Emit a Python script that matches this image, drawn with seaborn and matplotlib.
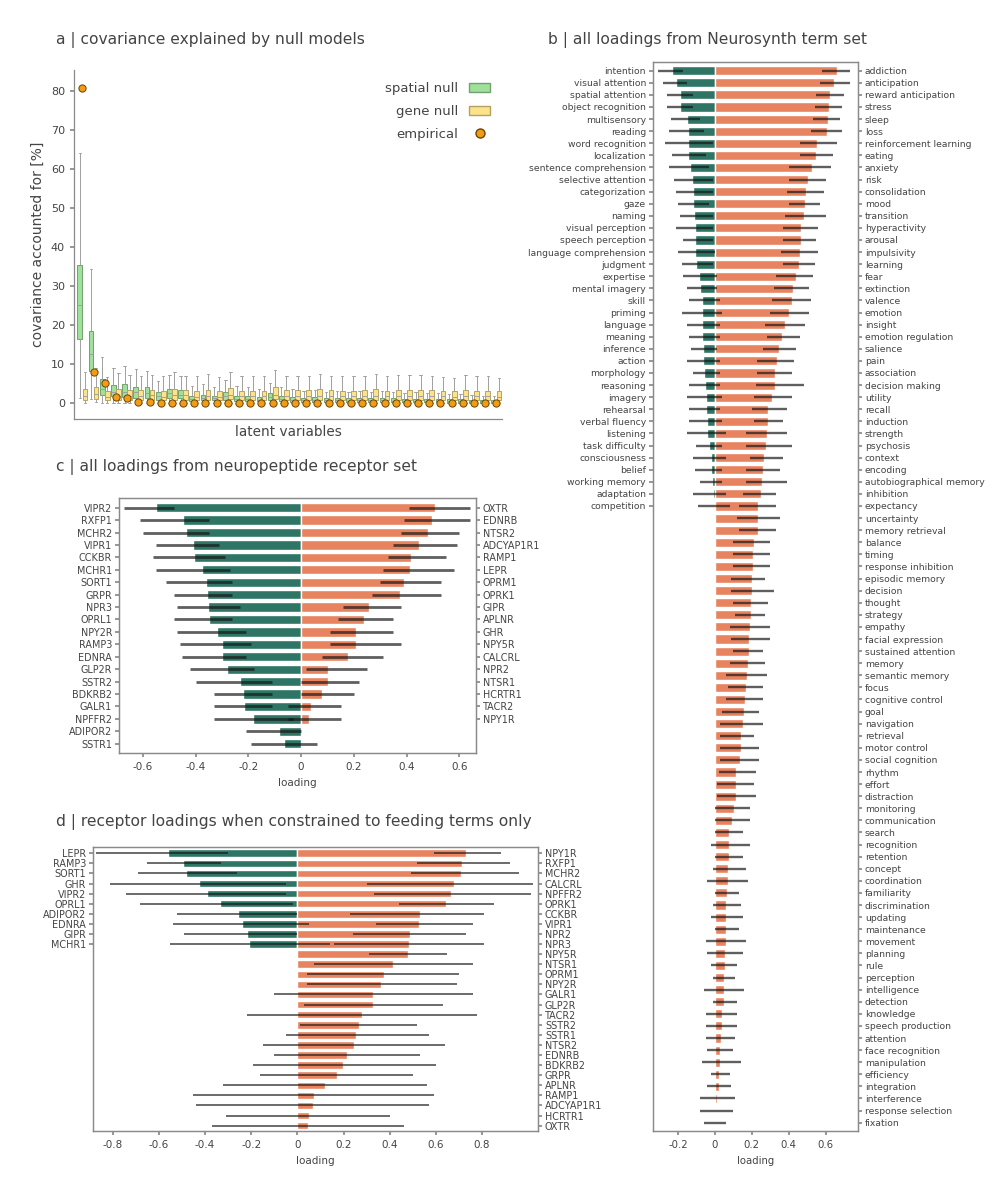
import matplotlib
matplotlib.use("Agg")
import matplotlib.pyplot as plt
from matplotlib.patches import Patch
from matplotlib.lines import Line2D
import numpy as np
import pandas as pd
import seaborn as sns

# ---------------- data: panel a (null model boxplots) ----------------
lv_ids = list(range(1, 39))
empirical = [80.8, 8.1, 5.2, 1.6, 1.3, 0.4, 0.3, 0.2, 0.2, 0.15, 0.12, 0.12, 0.1, 0.1, 0.1,
             0.08, 0.08, 0.08, 0.07, 0.07, 0.06, 0.06, 0.06, 0.05, 0.05, 0.05, 0.05, 0.04,
             0.04, 0.04, 0.04, 0.03, 0.03, 0.03, 0.03, 0.02, 0.02, 0.02]
# spatial null: low whisker, q1, median, q3, high whisker
sp_lo = [1.5, 1.1, 0.1, 0.2, 0.2, 0.2, 0.2, 0.1, 0.2, 0.1, 0.1, 0.1, 0.1, 0.1, 0.1, 0.1, 0.1, 0.1, 0.1,
         0.1, 0.1, 0.1, 0.05, 0.05, 0.05, 0.05, 0.05, 0.05, 0.05, 0.05, 0.05, 0.05, 0.05, 0.05, 0.05, 0.05, 0.05, 0.05]
sp_q1 = [16.5, 8.2, 2.2, 2.0, 1.6, 1.4, 1.4, 0.9, 1.5, 1.4, 0.5, 0.8, 0.8, 0.9, 0.6, 0.6, 0.5, 0.9, 0.5,
         0.4, 0.4, 0.4, 0.3, 0.3, 0.3, 0.3, 0.3, 0.3, 0.3, 0.3, 0.3, 0.3, 0.3, 0.2, 0.2, 0.2, 0.2, 0.2]
sp_med = [25.3, 12.7, 3.7, 3.0, 3.0, 2.9, 2.7, 1.8, 2.6, 2.2, 1.1, 1.4, 1.4, 1.9, 1.1, 1.1, 0.9, 1.6, 1.1,
          0.9, 0.9, 1.0, 0.8, 0.8, 0.7, 0.8, 0.8, 0.8, 0.7, 0.7, 0.7, 0.6, 0.7, 0.6, 0.6, 0.5, 0.5, 0.4]
sp_q3 = [35.6, 18.6, 6.2, 4.7, 5.0, 4.2, 4.2, 2.8, 3.8, 3.5, 1.8, 2.2, 2.0, 2.9, 1.9, 1.8, 1.6, 2.6, 1.8,
         1.6, 1.5, 1.7, 1.4, 1.4, 1.3, 1.4, 1.4, 1.5, 1.3, 1.2, 1.2, 1.1, 1.2, 1.1, 1.1, 1.0, 0.9, 0.8]
sp_hi = [64.3, 34.4, 12.0, 9.0, 9.7, 8.7, 8.3, 5.8, 7.3, 6.9, 4.5, 5.0, 4.2, 5.9, 4.5, 4.2, 3.7, 5.2, 4.2,
         3.6, 3.3, 3.5, 3.0, 3.2, 2.9, 3.1, 3.0, 3.2, 2.8, 2.7, 2.9, 2.6, 2.7, 2.4, 2.5, 2.2, 2.0, 1.8]
# gene null
gn_lo = [0.2, 0.3] + [0.2] * 36
gn_q1 = [0.9, 1.1, 0.9, 0.8, 0.9, 0.8, 0.9, 0.8, 0.9, 0.9, 0.9, 0.9, 0.8, 1.1, 0.8, 0.8, 0.8, 1.1, 0.9,
         0.9, 0.9, 1.0, 0.9, 0.8, 0.8, 0.9, 1.0, 0.8, 0.9, 0.9, 0.9, 0.9, 0.8, 0.8, 0.9, 0.8, 0.8, 0.8]
gn_med = [1.9, 2.5, 1.7, 1.9, 1.9, 1.9, 2.1, 1.6, 2.2, 2.1, 1.6, 1.9, 1.6, 2.2, 1.8, 1.8, 1.8, 2.2, 1.9,
          1.9, 1.9, 2.0, 1.9, 1.8, 1.8, 1.9, 2.0, 1.8, 1.9, 1.9, 1.9, 1.9, 1.8, 1.7, 1.9, 1.8, 1.8, 1.7]
gn_q3 = [3.6, 4.3, 3.2, 3.6, 3.5, 3.5, 3.5, 3.2, 3.7, 3.5, 3.2, 3.5, 3.2, 3.9, 3.2, 3.2, 3.2, 4.2, 3.5,
         3.4, 3.4, 3.6, 3.4, 3.3, 3.3, 3.4, 3.6, 3.3, 3.4, 3.4, 3.4, 3.4, 3.3, 3.2, 3.4, 3.3, 3.3, 3.2]
gn_hi = [8.0, 9.2, 6.8, 7.7, 7.3, 6.9, 7.3, 7.0, 8.0, 7.1, 6.9, 7.5, 6.7, 8.1, 6.9, 7.0, 6.9, 8.6, 7.1,
         7.1, 7.1, 7.5, 7.1, 6.9, 6.9, 7.1, 7.5, 6.9, 7.3, 7.3, 7.3, 7.1, 6.8, 6.4, 7.2, 6.9, 6.9, 6.6]

# ---------------- data: panel b (Neurosynth terms) ----------------
b_neg_terms = ["intention", "visual attention", "spatial attention", "object recognition", "multisensory",
               "reading", "word recognition", "localization", "sentence comprehension", "selective attention",
               "categorization", "gaze", "naming", "visual perception", "speech perception",
               "language comprehension", "judgment", "expertise", "mental imagery", "skill", "priming",
               "language", "meaning", "inference", "action", "morphology", "reasoning", "imagery",
               "rehearsal", "verbal fluency", "listening", "task difficulty", "consciousness", "belief",
               "working memory", "adaptation", "competition"]
b_neg_vals = [-0.231, -0.209, -0.191, -0.191, -0.151, -0.148, -0.144, -0.144, -0.135, -0.126, -0.121,
              -0.117, -0.115, -0.110, -0.110, -0.105, -0.103, -0.086, -0.081, -0.072, -0.070, -0.068,
              -0.067, -0.065, -0.063, -0.061, -0.056, -0.050, -0.050, -0.045, -0.045, -0.031, -0.023,
              -0.023, -0.013, -0.009, -0.005]
b_neg_lo = [-0.31, -0.28, -0.26, -0.26, -0.24, -0.25, -0.27, -0.23, -0.25, -0.22, -0.21, -0.20, -0.19,
            -0.21, -0.17, -0.20, -0.18, -0.17, -0.15, -0.14, -0.18, -0.15, -0.14, -0.13, -0.15, -0.12,
            -0.14, -0.15, -0.14, -0.14, -0.15, -0.10, -0.12, -0.11, -0.08, -0.12, -0.09]
b_neg_hi = [-0.17, -0.15, -0.12, -0.12, -0.08, -0.06, -0.01, -0.05, -0.03, -0.01, -0.01, -0.03, -0.01,
            -0.01, -0.01, 0.00, -0.01, 0.01, 0.01, 0.03, 0.04, 0.03, 0.03, 0.01, 0.03, 0.03, 0.03, 0.04,
            0.03, 0.04, 0.06, 0.04, 0.06, 0.04, 0.04, 0.06, 0.08]
b_pos_terms = ["addiction", "anticipation", "reward anticipation", "stress", "sleep", "loss",
               "reinforcement learning", "eating", "anxiety", "risk", "consolidation", "mood", "transition",
               "hyperactivity", "arousal", "impulsivity", "learning", "fear", "extinction", "valence",
               "emotion", "insight", "emotion regulation", "salience", "pain", "association",
               "decision making", "utility", "recall", "induction", "strength", "psychosis", "context",
               "encoding", "autobiographical memory", "inhibition", "expectancy", "uncertainty",
               "memory retrieval", "balance", "timing", "response inhibition", "episodic memory", "decision",
               "thought", "strategy", "empathy", "facial expression", "sustained attention", "memory",
               "semantic memory", "focus", "cognitive control", "goal", "navigation", "retrieval",
               "motor control", "social cognition", "rhythm", "effort", "distraction", "monitoring",
               "communication", "search", "recognition", "retention", "concept", "coordination",
               "familiarity", "discrimination", "updating", "maintenance", "movement", "planning", "rule",
               "perception", "intelligence", "detection", "knowledge", "speech production", "attention",
               "face recognition", "manipulation", "efficiency", "integration", "interference",
               "response selection", "fixation"]
b_pos_vals = [0.661, 0.647, 0.623, 0.616, 0.613, 0.607, 0.553, 0.550, 0.524, 0.505, 0.495, 0.488, 0.485,
              0.468, 0.465, 0.461, 0.456, 0.441, 0.423, 0.420, 0.404, 0.380, 0.366, 0.346, 0.339, 0.328,
              0.324, 0.310, 0.286, 0.285, 0.283, 0.276, 0.267, 0.259, 0.256, 0.252, 0.236, 0.234, 0.231,
              0.213, 0.209, 0.205, 0.202, 0.200, 0.198, 0.195, 0.191, 0.187, 0.184, 0.180, 0.175, 0.168,
              0.164, 0.157, 0.151, 0.142, 0.139, 0.137, 0.117, 0.115, 0.112, 0.101, 0.092, 0.077, 0.074,
              0.074, 0.072, 0.070, 0.065, 0.061, 0.061, 0.059, 0.059, 0.056, 0.056, 0.052, 0.050, 0.047,
              0.040, 0.036, 0.031, 0.029, 0.027, 0.025, 0.022, 0.009, 0.007, 0.002]
b_pos_lo = [0.58, 0.57, 0.55, 0.54, 0.53, 0.52, 0.46, 0.46, 0.40, 0.40, 0.39, 0.40, 0.38, 0.37, 0.37, 0.36,
            0.37, 0.33, 0.32, 0.31, 0.30, 0.27, 0.28, 0.26, 0.23, 0.23, 0.22, 0.21, 0.20, 0.21, 0.17, 0.17,
            0.19, 0.17, 0.17, 0.15, 0.13, 0.12, 0.13, 0.10, 0.10, 0.10, 0.09, 0.09, 0.10, 0.11, 0.08, 0.09,
            0.10, 0.08, 0.06, 0.07, 0.06, 0.04, 0.03, 0.03, 0.03, 0.03, 0.02, 0.01, 0.01, 0.00, 0.00, 0.00,
            -0.02, 0.00, -0.01, -0.04, 0.00, -0.01, -0.02, 0.00, -0.05, -0.04, -0.02, -0.01, -0.06, -0.01,
            -0.05, -0.05, -0.05, -0.04, -0.07, -0.02, -0.04, -0.08, -0.08, -0.06]
b_pos_hi = [0.73, 0.73, 0.70, 0.69, 0.68, 0.69, 0.66, 0.64, 0.63, 0.60, 0.59, 0.57, 0.60, 0.56, 0.55, 0.56,
            0.54, 0.53, 0.51, 0.52, 0.51, 0.49, 0.46, 0.44, 0.43, 0.42, 0.48, 0.42, 0.39, 0.37, 0.39, 0.42,
            0.37, 0.35, 0.39, 0.33, 0.33, 0.35, 0.33, 0.30, 0.30, 0.30, 0.27, 0.32, 0.29, 0.27, 0.30, 0.30,
            0.26, 0.27, 0.28, 0.26, 0.26, 0.24, 0.26, 0.21, 0.24, 0.24, 0.22, 0.21, 0.22, 0.19, 0.19, 0.15,
            0.19, 0.15, 0.17, 0.18, 0.13, 0.14, 0.15, 0.13, 0.17, 0.15, 0.12, 0.11, 0.16, 0.12, 0.12, 0.12,
            0.11, 0.10, 0.14, 0.08, 0.09, 0.11, 0.10, 0.06]

# ---------------- data: panel c (neuropeptide receptor set) ----------------
c_neg_terms = ["VIPR2", "RXFP1", "MCHR2", "VIPR1", "CCKBR", "MCHR1", "SORT1", "GRPR", "NPR3", "OPRL1",
               "NPY2R", "RAMP3", "EDNRA", "GLP2R", "SSTR2", "BDKRB2", "GALR1", "NPFFR2", "ADIPOR2", "SSTR1"]
c_neg_vals = [-0.548, -0.446, -0.437, -0.411, -0.404, -0.377, -0.362, -0.358, -0.352, -0.349, -0.318,
              -0.301, -0.300, -0.281, -0.232, -0.219, -0.216, -0.181, -0.082, -0.063]
c_neg_lo = [-0.67, -0.61, -0.60, -0.55, -0.56, -0.55, -0.51, -0.48, -0.47, -0.48, -0.47, -0.46, -0.45,
            -0.42, -0.40, -0.33, -0.33, -0.33, -0.21, -0.19]
c_neg_hi = [-0.48, -0.35, -0.35, -0.31, -0.29, -0.27, -0.26, -0.26, -0.23, -0.26, -0.21, -0.19, -0.21,
            -0.18, -0.11, -0.11, -0.11, -0.03, 0.00, 0.06]
c_pos_terms = ["OXTR", "EDNRB", "NTSR2", "ADCYAP1R1", "RAMP1", "LEPR", "OPRM1", "OPRK1", "GIPR", "APLNR",
               "GHR", "NPY5R", "CALCRL", "NPR2", "NTSR1", "HCRTR1", "TACR2", "NPY1R"]
c_pos_vals = [0.508, 0.496, 0.482, 0.447, 0.418, 0.411, 0.391, 0.376, 0.258, 0.237, 0.209, 0.209, 0.178,
              0.103, 0.101, 0.080, 0.038, 0.029]
c_pos_lo = [0.41, 0.39, 0.38, 0.35, 0.33, 0.31, 0.30, 0.27, 0.16, 0.14, 0.11, 0.11, 0.08, 0.02, 0.00,
            0.00, -0.05, -0.05]
c_pos_hi = [0.64, 0.64, 0.60, 0.59, 0.55, 0.58, 0.53, 0.53, 0.38, 0.35, 0.35, 0.38, 0.31, 0.25, 0.22,
            0.20, 0.15, 0.15]

# ---------------- data: panel d (feeding terms only) ----------------
d_neg_terms = ["LEPR", "RAMP3", "SORT1", "GHR", "VIPR2", "OPRL1", "ADIPOR2", "EDNRA", "GIPR", "MCHR1"]
d_neg_vals = [-0.561, -0.496, -0.483, -0.425, -0.392, -0.334, -0.255, -0.239, -0.216, -0.210]
d_neg_lo = [-0.87, -0.65, -0.69, -0.81, -0.74, -0.68, -0.52, -0.54, -0.49, -0.55]
d_neg_hi = [-0.30, -0.33, -0.26, -0.05, -0.05, -0.02, 0.00, 0.05, 0.00, 0.14]
d_pos_terms = ["NPY1R", "RXFP1", "MCHR2", "CALCRL", "NPFFR2", "OPRK1", "CCKBR", "VIPR1", "NPR2", "NPR3",
               "NPY5R", "NTSR1", "OPRM1", "NPY2R", "GALR1", "GLP2R", "TACR2", "SSTR2", "SSTR1", "NTSR2",
               "EDNRB", "BDKRB2", "GRPR", "APLNR", "RAMP1", "ADCYAP1R1", "HCRTR1", "OXTR"]
d_pos_vals = [0.729, 0.715, 0.707, 0.679, 0.664, 0.643, 0.530, 0.527, 0.486, 0.484, 0.480, 0.412, 0.376,
              0.362, 0.329, 0.327, 0.278, 0.268, 0.256, 0.246, 0.215, 0.199, 0.170, 0.120, 0.072, 0.068,
              0.049, 0.048]
d_pos_lo = [0.59, 0.52, 0.49, 0.30, 0.33, 0.44, 0.23, 0.34, 0.24, 0.16, 0.31, 0.07, 0.04, 0.04, -0.10,
            0.03, -0.22, 0.01, -0.05, -0.15, -0.10, -0.19, -0.16, -0.32, -0.45, -0.44, -0.31, -0.37]
d_pos_hi = [0.88, 0.92, 0.96, 1.02, 1.01, 0.85, 0.81, 0.76, 0.73, 0.81, 0.65, 0.76, 0.70, 0.69, 0.76,
            0.63, 0.78, 0.52, 0.57, 0.64, 0.53, 0.60, 0.50, 0.56, 0.59, 0.57, 0.40, 0.46]

GREEN_BAR = "#2e7565"
ORANGE_BAR = "#e8835f"
TEXT = "#444444"

sns.set_theme(style="ticks", rc={
    "axes.edgecolor": "#8a8a8a", "axes.linewidth": 0.9,
    "xtick.color": "#8a8a8a", "ytick.color": "#8a8a8a",
    "xtick.labelcolor": TEXT, "ytick.labelcolor": TEXT,
    "axes.labelcolor": TEXT, "text.color": TEXT,
    "axes.unicode_minus": False,
})
plt.rcParams["font.family"] = ["DejaVu Sans"]

fig = plt.figure(figsize=(10, 12), dpi=100)


def frac(left, top, right, bottom):
    return [left / 1000, 1 - bottom / 1200, (right - left) / 1000, (bottom - top) / 1200]


def loading_panel(rect, neg_terms, neg_vals, neg_lo, neg_hi, pos_terms, pos_vals, pos_lo, pos_hi,
                  xlim, xticks, ylim, fs=6.8, lw=2.0):
    ax = fig.add_axes(rect)
    sns.barplot(x=neg_vals, y=neg_terms, color=GREEN_BAR, saturation=1, width=0.75,
                errorbar=None, orient="h", ax=ax)
    ax2 = ax.twinx()
    sns.barplot(x=pos_vals, y=pos_terms, color=ORANGE_BAR, saturation=1, width=0.75,
                errorbar=None, orient="h", ax=ax2)
    # bootstrap spread of each loading
    ax2.hlines(np.arange(len(neg_terms)), neg_lo, neg_hi, color="#141414", lw=lw, alpha=0.68, zorder=4)
    ax2.hlines(np.arange(len(pos_terms)), pos_lo, pos_hi, color="#141414", lw=lw, alpha=0.68, zorder=4)
    for a in (ax, ax2):
        a.set_ylim(*ylim)
        a.set_ylabel("")
        a.tick_params(axis="y", labelsize=fs, length=3, pad=2)
    ax.set_xlim(*xlim)
    ax.set_xticks(xticks)
    ax.set_xticklabels(["0" if abs(t) < 1e-9 else f"{t:.1f}" for t in xticks])
    ax.tick_params(axis="x", labelsize=fs + 0.6, length=3)
    ax.set_xlabel("loading", fontsize=fs + 0.6)
    for a in (ax, ax2):
        for s in a.spines.values():
            s.set_color("#8a8a8a")
    return ax, ax2


# ---------------- panel a ----------------
axa = fig.add_axes(frac(74, 70, 502, 419))
rows = []
for i, lv in enumerate(lv_ids):
    for v in (sp_lo[i], sp_q1[i], sp_med[i], sp_q3[i], sp_hi[i]):
        rows.append({"lv": lv, "null": "spatial null", "value": v})
    for v in (gn_lo[i], gn_q1[i], gn_med[i], gn_q3[i], gn_hi[i]):
        rows.append({"lv": lv, "null": "gene null", "value": v})
null_df = pd.DataFrame(rows)
box_pal = {"spatial null": "#9fe09a", "gene null": "#fde28c"}
sns.boxplot(data=null_df, x="lv", y="value", hue="null", palette=box_pal, whis=(0, 100),
            width=0.9, gap=0.05, linewidth=0.7, linecolor="#a0a0a0", saturation=1,
            showfliers=False, legend=False, ax=axa)
for p in axa.patches:
    fc = np.array(p.get_facecolor()[:3])
    p.set_edgecolor(tuple(fc * 0.72))
sns.stripplot(x=lv_ids, y=empirical, jitter=False, color="#f39b14", edgecolor="#6b4500",
              linewidth=0.7, size=5.2, ax=axa, zorder=6)
axa.set_xlim(-0.75, 37.5)
axa.set_ylim(-4, 85.5)
axa.set_yticks(range(0, 81, 10))
axa.set_xticks([])
axa.tick_params(axis="y", labelsize=8, length=3)
axa.set_xlabel("latent variables", fontsize=9.8, labelpad=4)
axa.set_ylabel("covariance accounted for [%]", fontsize=10)
sns.despine(ax=axa)
handles = [Patch(facecolor="#9fe09a", edgecolor="#72a16f"),
           Patch(facecolor="#fde28c", edgecolor="#b59f63"),
           Line2D([], [], marker="o", ls="", markerfacecolor="#f39b14", markeredgecolor="#6b4500",
                  markersize=6.5)]
axa.legend(handles, ["spatial null", "gene null", "empirical"], loc="upper right",
           bbox_to_anchor=(1.0, 1.0), frameon=False, markerfirst=False, fontsize=9.5,
           handlelength=1.6, handleheight=0.7, labelspacing=0.75)

# ---------------- panel b ----------------
loading_panel(frac(653, 62, 858, 1131), b_neg_terms, b_neg_vals, b_neg_lo, b_neg_hi,
              b_pos_terms, b_pos_vals, b_pos_lo, b_pos_hi,
              xlim=(-0.335, 0.775), xticks=[-0.2, 0, 0.2, 0.4, 0.6], ylim=(87.69, -0.72), fs=6.7, lw=1.7)

# ---------------- panel c ----------------
loading_panel(frac(119, 498, 476, 753), c_neg_terms, c_neg_vals, c_neg_lo, c_neg_hi,
              c_pos_terms, c_pos_vals, c_pos_lo, c_pos_hi,
              xlim=(-0.69, 0.663), xticks=[-0.6, -0.4, -0.2, 0, 0.2, 0.4, 0.6], ylim=(19.75, -0.78),
              fs=6.9, lw=2.0)

# ---------------- panel d ----------------
loading_panel(frac(93, 847, 538, 1131), d_neg_terms, d_neg_vals, d_neg_lo, d_neg_hi,
              d_pos_terms, d_pos_vals, d_pos_lo, d_pos_hi,
              xlim=(-0.885, 1.042), xticks=[-0.8, -0.6, -0.4, -0.2, 0, 0.2, 0.4, 0.6, 0.8],
              ylim=(27.53, -0.62), fs=6.9, lw=1.3)

# ---------------- panel titles ----------------
titles = [(56, 40, "a | covariance explained by null models"),
          (548, 40, "b | all loadings from Neurosynth term set"),
          (56, 467, "c | all loadings from neuropeptide receptor set"),
          (56, 822, "d | receptor loadings when constrained to feeding terms only")]
for x, y, t in titles:
    fig.text(x / 1000, 1 - y / 1200, t, fontsize=11.2, ha="left", va="center", color=TEXT)

fig.savefig("out.png", dpi=100)
